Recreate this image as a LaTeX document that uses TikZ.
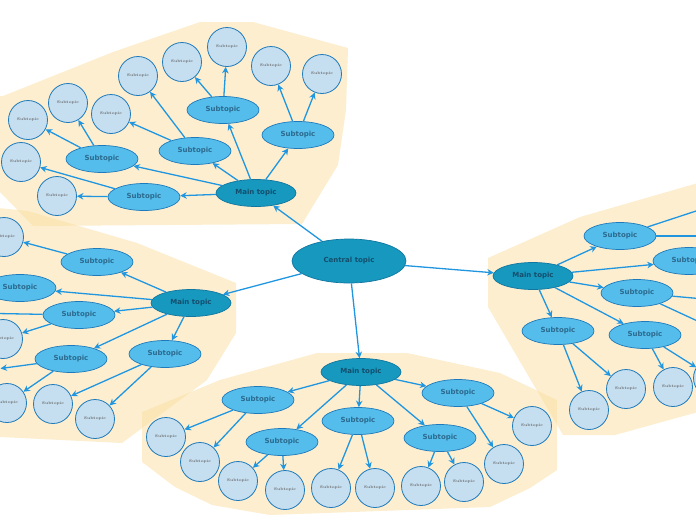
\documentclass[tikz,border=0pt]{standalone}
\usepackage{fontspec}
\newfontfamily\topicfont{DejaVu Sans}
\usetikzlibrary{arrows.meta,shapes.geometric}
\definecolor{zonebg}{RGB}{250,222,160}
\definecolor{tealfill}{RGB}{22,152,191}
\definecolor{tealedge}{RGB}{17,118,160}
\definecolor{subfill}{RGB}{85,189,235}
\definecolor{subedge}{RGB}{30,122,186}
\definecolor{leaffill}{RGB}{197,222,240}
\definecolor{linkcol}{RGB}{33,150,224}
\definecolor{darktxt}{RGB}{20,78,108}
\definecolor{subtxt}{RGB}{44,106,142}
\tikzset{
  zone/.style={fill=zonebg,fill opacity=0.5,draw=none},   % cluster background
  cent/.style={ellipse,fill=tealfill,draw=tealedge,line width=0.7pt,inner sep=0pt,
    minimum width=114pt,minimum height=44pt,text=darktxt,
    font=\topicfont\bfseries\fontsize{7}{8}\selectfont},
  maintp/.style={cent,minimum width=80pt,minimum height=27pt},
  subtp/.style={ellipse,fill=subfill,draw=subedge,line width=0.7pt,inner sep=0pt,
    minimum width=72pt,minimum height=27pt,text=subtxt,
    font=\topicfont\bfseries\fontsize{7}{8}\selectfont},
  leaf/.style={circle,fill=leaffill,draw=subedge,line width=0.8pt,inner sep=0pt,
    minimum size=39pt,text=black!60,font=\bfseries\fontsize{3.8}{4}\selectfont},
  link/.style={-{Stealth[length=6.5pt,width=6.5pt]},color=linkcol,line width=1.3pt},
}

\begin{document}
\begin{tikzpicture}[x=1pt,y=-1pt]
  \useasboundingbox (0,0) rectangle (696,520);
  \clip (0,0) rectangle (696,520);
  % backgrounds
  \fill[zone] (200,22)--(253,22)--(348,48)--(346,110)--(338,165)--(302,224)--(33,226)
    --(0,192)--(0,96)--(3,96)--(113,52)--cycle;
  \fill[zone] (-2,208)--(28,211)--(137,243)--(236,283)--(236,333)--(207,380)--(122,443)
    --(0,437)--cycle;
  \fill[zone] (142,412)--(220,380)--(317,353)--(407,353)--(500,373)--(557,400)--(557,470)
    --(530,488)--(490,507)--(270,515)--(212,505)--(175,487)--(142,462)--cycle;
  \fill[zone] (488,258)--(580,217)--(698,183)--(698,412)--(615,435)--(563,435)--(488,307)--cycle;

  % central and main topics
  \node[cent] (cen) at (349,261) {Central topic};
  \node[maintp] (mtl) at (256,193) {Main topic};
  \node[maintp] (ml) at (191,303) {Main topic};
  \node[maintp] (mb) at (361,372) {Main topic};
  \node[maintp] (mr) at (533,276) {Main topic};

  % top left cluster
  \node[subtp] (stA) at (223,110) {Subtopic};
  \node[subtp] (stB) at (298,135) {Subtopic};
  \node[subtp] (stC) at (195,151) {Subtopic};
  \node[subtp] (stD) at (102,159) {Subtopic};
  \node[subtp] (stE) at (144,197) {Subtopic};
  \node[leaf] (lt1) at (227,47) {Subtopic};
  \node[leaf] (lt2) at (182,62) {Subtopic};
  \node[leaf] (lt3) at (271,66) {Subtopic};
  \node[leaf] (lt4) at (322,74) {Subtopic};
  \node[leaf] (lt5) at (138,76) {Subtopic};
  \node[leaf] (lt6) at (111,114) {Subtopic};
  \node[leaf] (lt7) at (68,103) {Subtopic};
  \node[leaf] (lt8) at (28,120) {Subtopic};
  \node[leaf] (lt9) at (21,162) {Subtopic};
  \node[leaf] (lt10) at (57,196) {Subtopic};

  % left cluster
  \node[subtp] (slA) at (97,262) {Subtopic};
  \node[subtp] (slB) at (20,288) {Subtopic};
  \node[subtp] (slC) at (79,315) {Subtopic};
  \node[subtp] (slD) at (71,359) {Subtopic};
  \node[subtp] (slE) at (165,354) {Subtopic};
  \node[leaf] (ll1) at (4,237) {Subtopic};
  \node[leaf] (ll2) at (3,339) {Subtopic};
  \node[leaf] (ll3) at (7,403) {Subtopic};
  \node[leaf] (ll4) at (53,404) {Subtopic};
  \node[leaf] (ll5) at (95,419) {Subtopic};
  \coordinate (llx1) at (-30,313);
  \coordinate (llx2) at (0.5,368.5);

  % bottom cluster
  \node[subtp] (sbA) at (258,400) {Subtopic};
  \node[subtp] (sbB) at (282,442) {Subtopic};
  \node[subtp] (sbC) at (358,421) {Subtopic};
  \node[subtp] (sbD) at (440,438) {Subtopic};
  \node[subtp] (sbE) at (458,393) {Subtopic};
  \node[leaf] (lb1) at (166,437) {Subtopic};
  \node[leaf] (lb2) at (200,462) {Subtopic};
  \node[leaf] (lb3) at (238,481) {Subtopic};
  \node[leaf] (lb4) at (285,490) {Subtopic};
  \node[leaf] (lb5) at (331,488) {Subtopic};
  \node[leaf] (lb6) at (375,488) {Subtopic};
  \node[leaf] (lb7) at (421,486) {Subtopic};
  \node[leaf] (lb8) at (464,482) {Subtopic};
  \node[leaf] (lb9) at (504,464) {Subtopic};
  \node[leaf] (lb10) at (532,426) {Subtopic};

  % right cluster
  \node[subtp] (srA) at (620,236) {Subtopic};
  \node[subtp] (srB) at (689,261) {Subtopic};
  \node[subtp] (srC) at (637,293) {Subtopic};
  \node[subtp] (srD) at (558,331) {Subtopic};
  \node[subtp] (srE) at (645,335) {Subtopic};
  \node[leaf] (lr1) at (589,410) {Subtopic};
  \node[leaf] (lr2) at (626,389) {Subtopic};
  \node[leaf] (lr3) at (673,387) {Subtopic};
  \node[leaf] (lr4) at (713,378) {Subtopic};
  \coordinate (lrx1) at (760,190);
  \coordinate (lrx2) at (760,236);
  \coordinate (lrx3) at (760,304);
  \coordinate (lrx4) at (760,350);

  % connectors
  \draw[link] (cen)--(mtl);
  \draw[link] (cen)--(ml);
  \draw[link] (cen)--(mb);
  \draw[link] (cen)--(mr);

  \draw[link] (mtl)--(stA);
  \draw[link] (mtl)--(stB);
  \draw[link] (mtl)--(stC);
  \draw[link] (mtl)--(stD);
  \draw[link] (mtl)--(stE);
  \draw[link] (stA)--(lt1);
  \draw[link] (stA)--(lt2);
  \draw[link] (stB)--(lt3);
  \draw[link] (stB)--(lt4);
  \draw[link] (stC)--(lt5);
  \draw[link] (stC)--(lt6);
  \draw[link] (stD)--(lt7);
  \draw[link] (stD)--(lt8);
  \draw[link] (stE)--(lt9);
  \draw[link] (stE)--(lt10);

  \draw[link] (ml)--(slA);
  \draw[link] (ml)--(slB);
  \draw[link] (ml)--(slC);
  \draw[link] (ml)--(slD);
  \draw[link] (ml)--(slE);
  \draw[link] (slA)--(ll1);
  \draw[link] (slC)--(llx1);
  \draw[link] (slC)--(ll2);
  \draw[link] (slD)--(llx2);
  \draw[link] (slD)--(ll3);
  \draw[link] (slE)--(ll4);
  \draw[link] (slE)--(ll5);

  \draw[link] (mb)--(sbA);
  \draw[link] (mb)--(sbB);
  \draw[link] (mb)--(sbC);
  \draw[link] (mb)--(sbD);
  \draw[link] (mb)--(sbE);
  \draw[link] (sbA)--(lb1);
  \draw[link] (sbA)--(lb2);
  \draw[link] (sbB)--(lb3);
  \draw[link] (sbB)--(lb4);
  \draw[link] (sbC)--(lb5);
  \draw[link] (sbC)--(lb6);
  \draw[link] (sbD)--(lb7);
  \draw[link] (sbD)--(lb8);
  \draw[link] (sbE)--(lb9);
  \draw[link] (sbE)--(lb10);

  \draw[link] (mr)--(srA);
  \draw[link] (mr)--(srB);
  \draw[link] (mr)--(srC);
  \draw[link] (mr)--(srD);
  \draw[link] (mr)--(srE);
  \draw[link] (srA)--(lrx1);
  \draw[link] (srA)--(lrx2);
  \draw[link] (srC)--(lrx3);
  \draw[link] (srC)--(lrx4);
  \draw[link] (srD)--(lr1);
  \draw[link] (srD)--(lr2);
  \draw[link] (srE)--(lr3);
  \draw[link] (srE)--(lr4);
\end{tikzpicture}
\end{document}
